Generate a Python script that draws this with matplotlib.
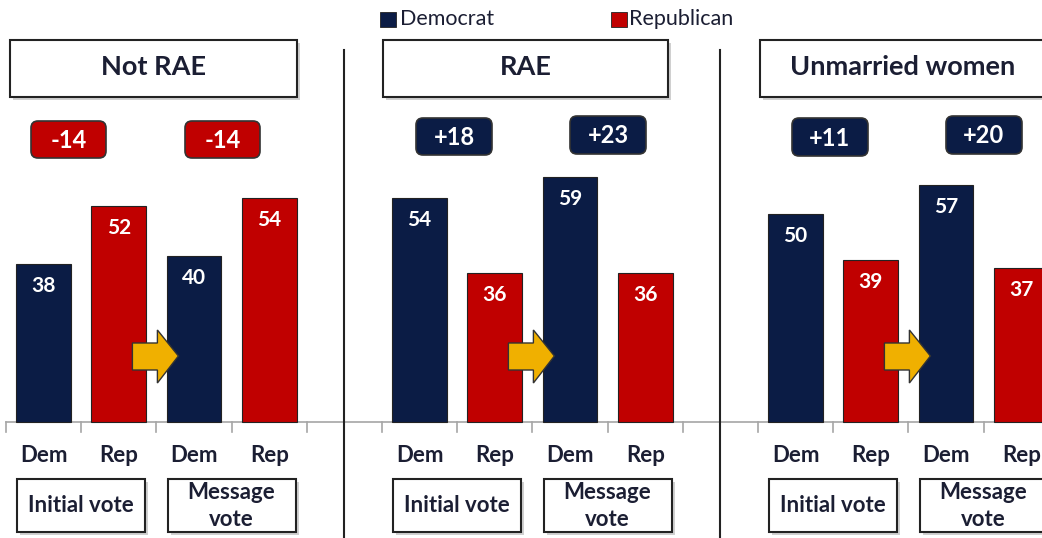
import matplotlib
matplotlib.use("Agg")
import matplotlib.pyplot as plt
from matplotlib.patches import FancyBboxPatch, Rectangle, Polygon
from matplotlib.transforms import Affine2D

# ---------------- data ----------------
groups = ["Not RAE", "RAE", "Unmarried women"]
bar_labels = ["Dem", "Rep", "Dem", "Rep"]
stage_labels = ["Initial vote", "Message\nvote"]
dem_initial = [38, 54, 50]
rep_initial = [52, 36, 39]
dem_message = [40, 59, 57]
rep_message = [54, 36, 37]
margin_initial = ["-14", "+18", "+11"]
margin_message = ["-14", "+23", "+20"]
legend_labels = ["Democrat", "Republican"]

DEM = "#0B1C45"
REP = "#C00000"
TXT = "#1B1E33"
ARROW = "#F0B000"

W, H = 1042, 538
fig = plt.figure(figsize=(W / 100, H / 100), dpi=100)
ax = fig.add_axes([0, 0, 1, 1])

CAT = 75.2
X0 = 6
BASE = 422
PPU = 4.15


def px2x(p):
    return -0.5 + (p - X0) / CAT


def py2y(p):
    return (BASE - p) / PPU


ax.set_xlim(px2x(0), px2x(W))
ax.set_ylim(py2y(H), py2y(0))
ax.axis("off")

# pixel transform (top-left origin)
PX = Affine2D().scale(1 / W, -1 / H).translate(0, 1) + fig.transFigure

FONT = "Lato"

# ---------------- bars ----------------
for g in range(len(groups)):
    vals = [dem_initial[g], rep_initial[g], dem_message[g], rep_message[g]]
    cols = [DEM, REP, DEM, REP]
    xs = [g * 5 + k for k in range(4)]
    ax.bar(xs, vals, width=0.73, color=cols, edgecolor="#222222", linewidth=0.8, zorder=3)
    for x, v in zip(xs, vals):
        ax.text(x, v - 22 / PPU, str(v), ha="center", va="center", color="white",
                fontsize=15, fontweight="bold", family=FONT, zorder=5)
    for x, lab in zip(xs, bar_labels):
        ax.text(x, py2y(456), lab, ha="center", va="center", color=TXT,
                fontsize=16, fontweight="bold", family=FONT)

# axis line and ticks
ax.plot([-0.5, px2x(W)], [0, 0], color="#A6A6A6", lw=1.2, zorder=2)
for k in range(14):
    t = k - 0.5
    ax.plot([t, t], [0, py2y(432)], color="#A6A6A6", lw=1.2, zorder=2)

# separators
for s in [4, 9]:
    ax.plot([s, s], [py2y(50), py2y(H)], color="#222222", lw=1.5, zorder=2)


def box(x0, y0, x1, y1, fc="white", ec="#222222", lw=1.5, rounding=0, shadow=True, z=4):
    style = "round,pad=0,rounding_size=%g" % rounding if rounding else "square,pad=0"
    if shadow:
        sh = FancyBboxPatch((x0 + 3, y0 + 3), x1 - x0, y1 - y0, boxstyle=style,
                            transform=PX, fc="#BDBDBD", ec="none", alpha=0.7, zorder=z - 1)
        fig.add_artist(sh)
    p = FancyBboxPatch((x0, y0), x1 - x0, y1 - y0, boxstyle=style, transform=PX,
                       fc=fc, ec=ec, lw=lw, zorder=z)
    fig.add_artist(p)


# headers
header_px = [(10, 297), (383, 668), (760, 1045)]
for g, (a, b) in enumerate(header_px):
    box(a, 40, b, 97)
    fig.text((a + b) / 2 / W, 1 - 67 / H, groups[g], ha="center", va="center", color=TXT,
             fontsize=19.5, fontweight="bold", family=FONT, zorder=6)

# margin badges
badge_px = [((31, 106), 121, 158), ((185, 260), 121, 158),
            ((416, 492), 118, 155), ((570, 646), 116, 154),
            ((792, 868), 118, 156), ((946, 1022), 116, 154)]
badge_txt = []
for g in range(3):
    badge_txt += [margin_initial[g], margin_message[g]]
for (xr, t, b), txt in zip(badge_px, badge_txt):
    fc = REP if txt.startswith("-") else DEM
    box(xr[0], t, xr[1], b, fc=fc, ec="#333333", lw=1.2, rounding=7, shadow=False)
    fig.text((xr[0] + xr[1]) / 2 / W, 1 - ((t + b) / 2 + 1) / H, txt, ha="center", va="center",
             color="white", fontsize=17, fontweight="bold", family=FONT, zorder=6)

# stage label boxes
for g in range(3):
    for j, lab in enumerate(stage_labels):
        cx = X0 + (g * 5 + j * 2 + 1.0) * CAT
        a, b = cx - 64, cx + 64
        box(a, 479, b, 532)
        fig.text(cx / W, 1 - 506 / H, lab, ha="center", va="center", color=TXT,
                 fontsize=16, fontweight="bold", family=FONT, linespacing=1.3, zorder=6)

# arrows between initial and message vote
for g in range(3):
    cx = X0 + (g * 5 + 2) * CAT - 1
    pts = [(cx - 23, 343), (cx + 2, 343), (cx + 2, 330), (cx + 23, 356),
           (cx + 2, 383), (cx + 2, 370), (cx - 23, 370)]
    fig.add_artist(Polygon(pts, closed=True, transform=PX, fc=ARROW, ec="#333333",
                           lw=1.0, zorder=6))

# legend
fig.add_artist(Rectangle((380, 12), 16, 15, transform=PX, fc=DEM, ec="#222222", lw=0.6))
fig.text(400 / W, 1 - 19 / H, legend_labels[0], ha="left", va="center", color=TXT,
         fontsize=15.5, family=FONT)
fig.add_artist(Rectangle((611, 12), 16, 15, transform=PX, fc=REP, ec="#222222", lw=0.6))
fig.text(629 / W, 1 - 19 / H, legend_labels[1], ha="left", va="center", color=TXT,
         fontsize=15.5, family=FONT)

fig.savefig("out.png", dpi=100)
